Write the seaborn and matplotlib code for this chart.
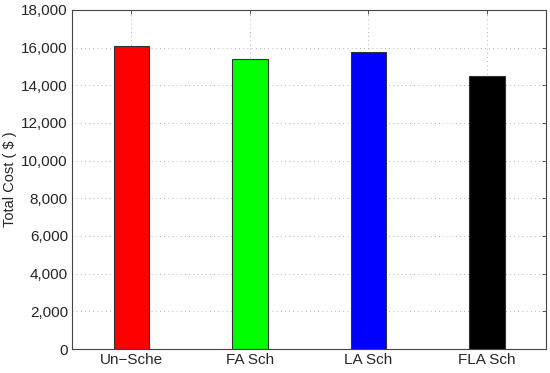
import matplotlib
matplotlib.use("Agg")
import matplotlib.pyplot as plt
import seaborn as sns
import pandas as pd
from matplotlib.ticker import FuncFormatter

categories = ["Un\u2212Sche", "FA Sch", "LA Sch", "FLA Sch"]
values = [16100, 15420, 15790, 14510]
colors = ["#ff0000", "#00ff00", "#0000ff", "#000000"]
y_ticks = [0, 2000, 4000, 6000, 8000, 10000, 12000, 14000, 16000, 18000]

sns.set_style("white")
plt.rcParams['font.family'] = ['Liberation Sans', 'DejaVu Sans']

df = pd.DataFrame({"cat": categories, "val": values})

fig = plt.figure(figsize=(5.5, 3.73), dpi=100)
ax = fig.add_axes([0.131, 0.0643, 0.862, 0.909])
sns.barplot(data=df, x="cat", y="val", hue="cat", palette=colors, legend=False,
            width=0.3, edgecolor="#333333", linewidth=0.8, ax=ax, saturation=1)

ax.set_xlim(-0.5, 3.5)
ax.set_ylim(0, 18000)
ax.set_yticks(y_ticks)
ax.yaxis.set_major_formatter(FuncFormatter(lambda v, p: f"{int(v):,}"))
ax.set_xlabel("")
ax.set_ylabel("Total Cost ( $ )", fontsize=10.5, labelpad=3)
ax.grid(True, linestyle=(0, (1, 4)), color="#999999", linewidth=0.6)
ax.set_axisbelow(True)
ax.tick_params(axis="both", direction="in", top=True, right=True, labelsize=11,
               length=3, width=0.6, color="#444444", pad=3)
for s in ax.spines.values():
    s.set_visible(True)
    s.set_color("#444444")
    s.set_linewidth(0.8)

fig.savefig("out.png", dpi=100)
